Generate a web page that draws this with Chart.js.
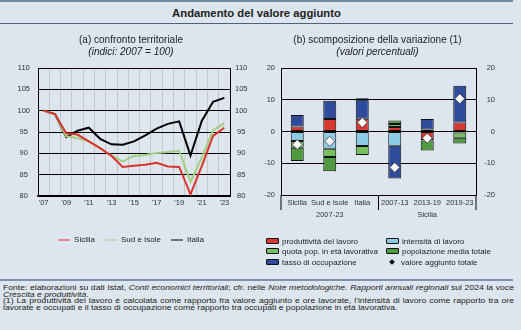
<!DOCTYPE html>
<html>
<head>
<meta charset="utf-8">
<script src="https://cdn.jsdelivr.net/npm/chart.js@4/dist/chart.umd.min.js"></script>
<style>
  body { margin: 0; width: 521px; height: 330px; background: #dde6ee; position: relative; overflow: hidden;
         font-family: Arial, "Liberation Sans", Helvetica, sans-serif; color: #222; }
  .rule { position: absolute; left: 0; width: 513px; }
  #topRule { top: 0; height: 2px; background: #6f89a5; }
  #titleRule { top: 23px; height: 1px; background: #4d627a; }
  #bottomRule { top: 279px; height: 2px; background: #7d93ad; }
  #title { position: absolute; top: 7px; left: 0; width: 513px; text-align: center; font-weight: bold; font-size: 11.3px; }
  canvas { position: absolute; }
  #chartA { left: 0; top: 28px; }
  #chartB { left: 260px; top: 28px; }
  #legendB { position: absolute; left: 266px; top: 237px; display: grid; grid-template-columns: 120px 120px; row-gap: 0; font-size: 8px; }
  #legendB div { height: 10.3px; line-height: 10.3px; white-space: nowrap; }
  #legendB .sw { display: inline-block; width: 11px; height: 4px; border: 1px solid #111; border-radius: 1px; margin-right: 3px; vertical-align: 0px; }
  #legendB .dot { display: inline-block; width: 4px; height: 4px; background: #000; transform: rotate(45deg); margin: 0 7px 0 4px; vertical-align: 1px; }
  #notes { position: absolute; left: 3px; top: 285px; width: 433px; font-size: 7.3px; line-height: 6.6px; text-align: justify; color: #222;
           transform: scaleX(1.18); transform-origin: 0 0; }
  #notes p { margin: 0; }
</style>
</head>
<body>
<div id="topRule" class="rule"></div>
<div id="title">Andamento del valore aggiunto</div>
<div id="titleRule" class="rule"></div>
<canvas id="chartA" width="262" height="226"></canvas>
<canvas id="chartB" width="261" height="200"></canvas>
<div id="legendB"></div>
<div id="bottomRule" class="rule"></div>
<div id="notes">
  <p>Fonte: elaborazioni su dati Istat, <i>Conti economici territoriali</i>; cfr. nelle <i>Note metodologiche. Rapporti annuali regionali</i> sul 2024 la voce <i>Crescita e produttività</i>.</p>
  <p>(1) La produttività del lavoro è calcolata come rapporto fra valore aggiunto e ore lavorate, l'intensità di lavoro come rapporto tra ore lavorate e occupati e il tasso di occupazione come rapporto tra occupati e popolazione in età lavorativa.</p>
</div>
<script>
Chart.defaults.font.family = 'Arial, "Liberation Sans", Helvetica, sans-serif';
Chart.defaults.color = "#333";

// (a) indici 2007 = 100
const YEARS = ["'07", "'08", "'09", "'10", "'11", "'12", "'13", "'14", "'15", "'16", "'17", "'18", "'19", "'20", "'21", "'22", "'23"];
const SICILIA = [100, 99.2, 94.7, 94.4, 92.8, 91.2, 89.4, 86.8, 87.1, 87.3, 87.8, 86.9, 86.8, 80.4, 87.0, 94.1, 96.0];
const SUD_ISOLE = [100, 99.2, 94.0, 93.6, 92.8, 91.2, 89.5, 88.1, 89.4, 89.6, 90.1, 90.3, 90.6, 83.3, 89.0, 95.4, 97.0];
const ITALIA = [100, 99.2, 93.8, 95.3, 96.0, 93.4, 92.1, 92.0, 92.8, 94.2, 95.8, 96.9, 97.5, 89.5, 97.6, 102.1, 103.0];

// (b) scomposizione della variazione
const CATEGORIES = ["Sicilia", "Sud e Isole", "Italia", "2007-13", "2013-19", "2019-23"];
const GROUPS = ["2007-23", "Sicilia"];
const PRODUTTIVITA = [1.6, 3.9, 4.0, 1.4, -2.3, 2.8];
const INTENSITA = [-3.0, -5.4, -4.6, -4.5, 0.6, -0.3];
const QUOTA_POP = [-2.1, -2.6, -2.8, 1.0, -0.5, -1.7];
const TASSO_OCC = [3.6, 5.8, 6.0, -10.3, 3.3, 11.6];
const POPOLAZIONE = [-4.2, -4.5, 0.5, 1.1, -3.2, -1.8];
const TOTALE = [-4.1, -3.1, 2.8, -11.3, -2.1, 10.3];

const C_RED = "#d9372f", C_LBLUE = "#8ccbe6", C_LGREEN = "#77bf5f", C_DGREEN = "#4f9a3f", C_DBLUE = "#2f4b9c";

const tickFont = { size: 7.5 };

new Chart(document.getElementById("chartA"), {
  type: "line",
  data: {
    labels: YEARS,
    datasets: [
      { label: "Sicilia", data: SICILIA, borderColor: "#d9342b", backgroundColor: "#d9342b" },
      { label: "Sud e Isole", data: SUD_ISOLE, borderColor: "#a2cf82", backgroundColor: "#a2cf82" },
      { label: "Italia", data: ITALIA, borderColor: "#000", backgroundColor: "#000" },
    ],
  },
  options: {
    responsive: false,
    animation: false,
    layout: { padding: 0 },
    elements: { point: { radius: 0 }, line: { borderWidth: 2, tension: 0 } },
    plugins: {
      title: { display: true, text: "(a) confronto territoriale", color: "#222", font: { size: 10, weight: "normal" }, padding: { top: 6, bottom: 0 } },
      subtitle: { display: true, text: "(indici: 2007 = 100)", color: "#222", font: { size: 10, style: "italic" }, padding: { top: 0, bottom: 10 } },
      legend: {
        position: "bottom",
        labels: { usePointStyle: true, pointStyle: "line", pointStyleWidth: 12, boxHeight: 8, color: "#222", font: { size: 8 }, padding: 10 },
      },
      tooltip: { enabled: false },
    },
    scales: {
      x: {
        offset: true,
        grid: { offset: true, color: "#c8c8c8", drawTicks: false },
        border: { color: "#000", width: 1.5 },
        ticks: { autoSkip: false, maxRotation: 0, padding: 2, font: tickFont, callback: (v, i) => (i % 2 === 0 ? YEARS[i] : "") },
        afterFit: (s) => { s.height = 30; },
      },
      y: {
        min: 80, max: 110,
        ticks: { stepSize: 5, padding: 8, crossAlign: "center", font: tickFont },
        grid: { color: "#000", drawTicks: false },
        border: { color: "#000" },
        afterFit: (s) => { s.width = 38; },
      },
      y2: {
        position: "right",
        min: 80, max: 110,
        ticks: { stepSize: 5, padding: 5, crossAlign: "center", font: tickFont },
        grid: { drawOnChartArea: false, drawTicks: false },
        border: { color: "#000" },
        afterFit: (s) => { s.width = 32; },
      },
    },
  },
});

// second label row: group name under the middle bar of each group
const PER_GROUP = CATEGORIES.length / GROUPS.length;
const labelsB = CATEGORIES.map((c, i) => {
  const g = Math.floor(i / PER_GROUP);
  return [c, i % PER_GROUP === Math.floor(PER_GROUP / 2) ? GROUPS[g] : ""];
});

// tick lines under the x axis that separate the two groups of bars
const groupSeparators = {
  id: "groupSeparators",
  afterDraw(chart) {
    const x = chart.scales.x;
    const ctx = chart.ctx;
    const half = (x.getPixelForValue(1) - x.getPixelForValue(0)) / 2;
    const lines = [x.left, x.right];
    for (let g = 1; g < GROUPS.length; g++) lines.push(x.getPixelForValue(g * PER_GROUP - 1) + half);
    ctx.save();
    ctx.strokeStyle = "#000";
    ctx.lineWidth = 1;
    lines.forEach((px) => {
      ctx.beginPath();
      ctx.moveTo(px, x.top);
      ctx.lineTo(px, x.top + 15);
      ctx.stroke();
    });
    ctx.restore();
  },
};

const barStyle = { borderColor: "#111", borderWidth: 1, borderSkipped: false, barPercentage: 0.4, categoryPercentage: 1, order: 1 };

new Chart(document.getElementById("chartB"), {
  type: "bar",
  data: {
    labels: labelsB,
    datasets: [
      { label: "produttività del lavoro", data: PRODUTTIVITA, backgroundColor: C_RED, ...barStyle },
      { label: "intensità di lavoro", data: INTENSITA, backgroundColor: C_LBLUE, ...barStyle },
      { label: "quota pop. in età lavorativa", data: QUOTA_POP, backgroundColor: C_LGREEN, ...barStyle },
      { label: "tasso di occupazione", data: TASSO_OCC, backgroundColor: C_DBLUE, ...barStyle },
      { label: "popolazione media totale", data: POPOLAZIONE, backgroundColor: C_DGREEN, ...barStyle },
      { type: "line", label: "valore aggiunto totale", data: TOTALE, stack: "va", showLine: false, order: 0,
        pointStyle: "rectRot", pointRadius: 5, pointHoverRadius: 5, pointBackgroundColor: "#fff", pointBorderColor: "#333", pointBorderWidth: 0.8 },
      { type: "line", label: "", data: TOTALE, stack: "vb", showLine: false, order: 0,
        pointStyle: "circle", pointRadius: 2, pointHoverRadius: 2, pointBackgroundColor: "#000", pointBorderWidth: 0 },
    ],
  },
  options: {
    responsive: false,
    animation: false,
    layout: { padding: { right: 26 } },
    plugins: {
      title: { display: true, text: "(b) scomposizione della variazione (1)", color: "#222", font: { size: 10, weight: "normal" }, padding: { top: 6, bottom: 0 } },
      subtitle: { display: true, text: "(valori percentuali)", color: "#222", font: { size: 10, style: "italic" }, padding: { top: 0, bottom: 10 } },
      legend: { display: false },
      tooltip: { enabled: false },
    },
    scales: {
      x: {
        stacked: true,
        grid: { display: false },
        border: { color: "#000" },
        ticks: { padding: -6, font: { size: 7.5, lineHeight: 1.6 }, maxRotation: 0, autoSkip: false },
        afterFit: (s) => { s.height = 33; },
      },
      y: {
        stacked: true,
        min: -20, max: 20,
        ticks: { stepSize: 10, padding: 6, font: tickFont },
        grid: { color: "#000", drawTicks: false },
        border: { color: "#000" },
        afterFit: (s) => { s.width = 21; },
      },
      y2: {
        position: "right",
        min: -20, max: 20,
        ticks: { stepSize: 10, crossAlign: "far", font: tickFont },
        grid: { drawOnChartArea: false, drawTicks: false },
        border: { color: "#000" },
        afterFit: (s) => { s.width = 19; },
      },
    },
  },
  plugins: [groupSeparators],
});

// legend of panel (b), two columns as in the original
const LEGEND_B = [
  ["produttività del lavoro", C_RED],
  ["intensità di lavoro", C_LBLUE],
  ["quota pop. in età lavorativa", C_LGREEN],
  ["popolazione media totale", C_DGREEN],
  ["tasso di occupazione", C_DBLUE],
  ["valore aggiunto totale", null],
];
document.getElementById("legendB").innerHTML = LEGEND_B.map(([name, color]) =>
  color
    ? `<div><span class="sw" style="background:${color}"></span>${name}</div>`
    : `<div><span class="dot"></span>${name}</div>`
).join("");
</script>
</body>
</html>
